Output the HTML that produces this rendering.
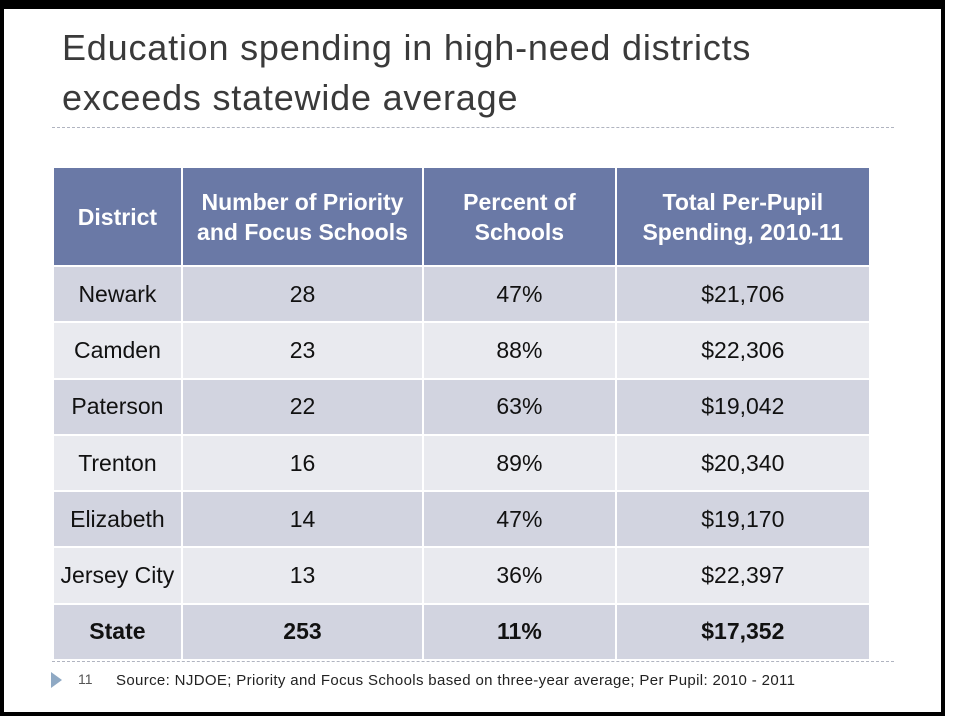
<!DOCTYPE html>
<html><head><style>
body{margin:0;width:960px;height:720px;background:#fff;position:relative;overflow:hidden;font-family:"Liberation Sans",sans-serif}
#frame{position:absolute;left:0;top:0;width:945px;height:716px;background:#000}
#inner{position:absolute;left:4px;top:9px;width:937px;height:703px;background:#fff}
.t{position:absolute;left:62px;font-size:36px;color:#3a3a3a;white-space:nowrap;letter-spacing:0.8px;line-height:40px}
.dash{position:absolute;left:52px;width:842px;border-top:1px dashed #b0b4c0}
table{position:absolute;left:52px;top:166px;border-collapse:collapse;width:819px}
td,th{border:2px solid #fff;text-align:center;font-size:23px;color:#111;padding:0}
th{background:#6a79a6;color:#fff;font-weight:bold;height:97px;line-height:30px;font-size:23px}
td{height:54.3px}
tr.a td{background:#d2d4e0}
tr.b td{background:#e9eaef}
tr.s td{font-weight:bold}
.foot{position:absolute;top:672px;left:116px;font-size:15px;color:#222;letter-spacing:0.35px}
</style></head><body>
<div id="frame"></div><div id="inner"></div>
<div class="t" style="top:28px">Education spending in high-need districts</div>
<div class="t" style="top:78px">exceeds statewide average</div>
<div class="dash" style="top:127px"></div>
<table>
<colgroup><col style="width:129px"><col style="width:242px"><col style="width:193px"><col style="width:255px"></colgroup>
<tr><th>District</th><th>Number of Priority<br>and Focus Schools</th><th>Percent of<br>Schools</th><th>Total Per-Pupil<br>Spending, 2010-11</th></tr>
<tr class="a"><td>Newark</td><td>28</td><td>47%</td><td>$21,706</td></tr>
<tr class="b"><td>Camden</td><td>23</td><td>88%</td><td>$22,306</td></tr>
<tr class="a"><td>Paterson</td><td>22</td><td>63%</td><td>$19,042</td></tr>
<tr class="b"><td>Trenton</td><td>16</td><td>89%</td><td>$20,340</td></tr>
<tr class="a"><td>Elizabeth</td><td>14</td><td>47%</td><td>$19,170</td></tr>
<tr class="b"><td>Jersey City</td><td>13</td><td>36%</td><td>$22,397</td></tr>
<tr class="a s"><td>State</td><td>253</td><td>11%</td><td>$17,352</td></tr>
</table>
<div class="dash" style="top:661px"></div>
<div style="position:absolute;left:51px;top:672px;width:0;height:0;border-left:11px solid #8fa9c4;border-top:8px solid transparent;border-bottom:8px solid transparent"></div>
<div style="position:absolute;left:78px;top:671px;font-size:14px;color:#555">11</div>
<div class="foot">Source: NJDOE; Priority and Focus Schools based on three-year average; Per Pupil: 2010 - 2011</div>
</body></html>
